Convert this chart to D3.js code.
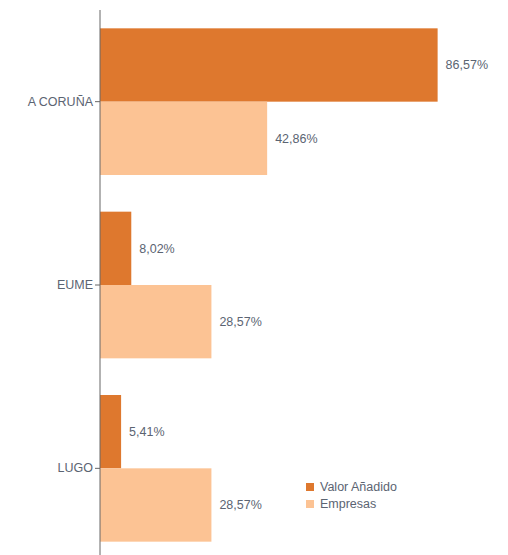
<!DOCTYPE html>
<html>
<head>
<meta charset="utf-8">
<script src="https://cdn.jsdelivr.net/npm/d3@7"></script>
<style>
  body { margin: 0; background: #fff; }
  text { font-family: "Liberation Sans", Arial, sans-serif; }
</style>
</head>
<body>
<div id="chart"></div>
<script>
var categories = ['A CORUÑA', 'EUME', 'LUGO'];
var seriesNames = ['Valor Añadido', 'Empresas'];
var valorAnadido = [86.57, 8.02, 5.41];
var empresas = [42.86, 28.57, 28.57];
var colors = ['#de782e', '#fcc394'];

var width = 508, height = 555;

var rows = categories.map(function (c, i) {
  return { cat: c, values: [valorAnadido[i], empresas[i]] };
});

var svg = d3.select('#chart').append('svg')
  .attr('width', width)
  .attr('height', height);

var y = d3.scaleBand()
  .domain(categories)
  .range([10, 560])
  .paddingInner(0.2)
  .paddingOuter(0.1);

var ySub = d3.scaleBand()
  .domain(seriesNames)
  .range([0, y.bandwidth()]);

var x = d3.scaleLinear()
  .domain([0, 100])
  .range([100, 490]);

var fmt = function (v) { return d3.format('.2f')(v).replace('.', ',') + '%'; };

var groups = svg.selectAll('g.grp')
  .data(rows)
  .enter().append('g')
  .attr('class', 'grp')
  .attr('transform', function (d) { return 'translate(0,' + y(d.cat) + ')'; });

groups.selectAll('rect')
  .data(function (d) { return d.values.map(function (v, i) { return { s: seriesNames[i], v: v, i: i }; }); })
  .enter().append('rect')
  .attr('x', x(0))
  .attr('y', function (d) { return ySub(d.s); })
  .attr('width', function (d) { return x(d.v) - x(0); })
  .attr('height', ySub.bandwidth())
  .attr('fill', function (d) { return colors[d.i]; });

groups.selectAll('text.val')
  .data(function (d) { return d.values.map(function (v, i) { return { s: seriesNames[i], v: v }; }); })
  .enter().append('text')
  .attr('class', 'val')
  .attr('x', function (d) { return x(d.v) + 8; })
  .attr('y', function (d) { return ySub(d.s) + ySub.bandwidth() / 2; })
  .attr('dy', '0.35em')
  .attr('font-size', 12.5)
  .attr('fill', '#5b6472')
  .text(function (d) { return fmt(d.v); });

var axis = svg.append('g')
  .attr('transform', 'translate(' + x(0) + ',0)')
  .call(d3.axisLeft(y).tickSize(5).tickPadding(2));
axis.select('.domain').attr('stroke', '#666').attr('d', 'M0,10V555');
axis.selectAll('.tick line').attr('stroke', '#666');
axis.selectAll('.tick text')
  .attr('font-size', 12.5)
  .attr('fill', '#5b6472')
  .style('font-family', '"Liberation Sans", Arial, sans-serif');

var legend = svg.append('g')
  .attr('transform', 'translate(306,483)');
seriesNames.forEach(function (name, i) {
  legend.append('rect')
    .attr('x', 0)
    .attr('y', i * 17)
    .attr('width', 8)
    .attr('height', 8)
    .attr('fill', colors[i]);
  legend.append('text')
    .attr('x', 14)
    .attr('y', i * 17 + 4)
    .attr('dy', '0.35em')
    .attr('font-size', 12.5)
    .attr('fill', '#5b6472')
    .text(name);
});
</script>
</body>
</html>
